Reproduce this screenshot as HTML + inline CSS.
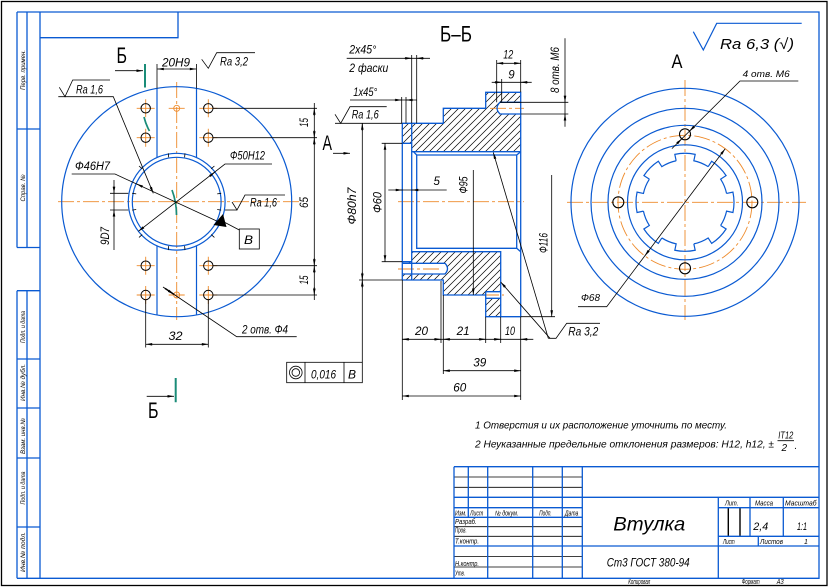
<!DOCTYPE html>
<html><head><meta charset="utf-8">
<style>
html,body{margin:0;padding:0;background:#fff}
svg{display:block}
text{font-family:"Liberation Sans","DejaVu Sans",sans-serif;font-style:italic;fill:#000}
.u{font-style:normal}
</style></head><body>
<svg width="830" height="588" viewBox="0 0 830 588" xmlns="http://www.w3.org/2000/svg">
<defs>
<marker id="a" viewBox="0 0 10 4" refX="10" refY="2" markerWidth="7" markerHeight="2.6" markerUnits="userSpaceOnUse" orient="auto-start-reverse"><path d="M0,0L10,2L0,4z" fill="#000"/></marker>
<pattern id="h" width="7" height="7" patternUnits="userSpaceOnUse"><path d="M-1,1L1,-1M0,7L7,0M6,8L8,6" stroke="#000" stroke-width="0.7"/></pattern>
</defs>

<!-- outer border -->
<rect x="1.5" y="1.5" width="825.5" height="584" fill="none" stroke="#000" stroke-width="1.3"/>

<!-- blue frame + left strip -->
<g stroke="#0a5ad2" stroke-width="1.3" fill="none">
<path d="M17,12H819V578.3H17M40,12V578.3M17,12V247.5M27,12V247.5M17,129H40M17,247.5H40"/>
<path d="M17,290.7V578.3M27,290.7V578.3M17,290.7H40M17,359H40M17,408H40M17,458H40M17,527H40"/>
<path d="M40,37.7H178V12"/>
</g>
<g font-size="6.5">
<text transform="translate(22.5,70) rotate(-90)" y="2.3" text-anchor="middle" textLength="40" lengthAdjust="spacingAndGlyphs">Перв. примен.</text>
<text transform="translate(22.5,188) rotate(-90)" y="2.3" text-anchor="middle" textLength="27" lengthAdjust="spacingAndGlyphs">Справ. №</text>
<text transform="translate(22.5,327) rotate(-90)" y="2.3" text-anchor="middle" textLength="32" lengthAdjust="spacingAndGlyphs">Подп. и дата</text>
<text transform="translate(22.5,382.5) rotate(-90)" y="2.3" text-anchor="middle" textLength="37" lengthAdjust="spacingAndGlyphs">Инв.№ дубл.</text>
<text transform="translate(22.5,436) rotate(-90)" y="2.3" text-anchor="middle" textLength="36" lengthAdjust="spacingAndGlyphs">Взам. инв.№</text>
<text transform="translate(22.5,488) rotate(-90)" y="2.3" text-anchor="middle" textLength="33" lengthAdjust="spacingAndGlyphs">Подп. и дата</text>
<text transform="translate(22.5,552) rotate(-90)" y="2.3" text-anchor="middle" textLength="40" lengthAdjust="spacingAndGlyphs">Инв.№ подл.</text>
</g>

<!-- ============ LEFT VIEW ============ -->
<g stroke="#ee8a2a" stroke-width="0.9" fill="none" stroke-dasharray="16,3,3,3">
<path d="M58,201.7H302M176.7,82V320"/>
</g>
<g stroke="#ee8a2a" stroke-width="0.9" fill="none">
<path d="M136.7,108.3h18M145.7,99.3v18M199.3,108.3h18M208.3,99.3v18M136.7,137.7h18M145.7,128.7v18M199.3,137.7h18M208.3,128.7v18"/>
<path d="M136.7,265.7h18M145.7,256.7v18M199.3,265.7h18M208.3,256.7v18M136.7,295h18M145.7,286v18M199.3,295h18M208.3,286v18"/>
<path d="M168.7,108.3h16M168.7,295h16"/>
<circle cx="176.7" cy="108.3" r="3"/><circle cx="176.7" cy="295" r="3"/>
</g>
<g stroke="#0a5ad2" stroke-width="1.2" fill="none">
<circle cx="176.7" cy="201.7" r="115"/>
<circle cx="176.7" cy="201.7" r="48.4"/>
<circle cx="176.7" cy="201.7" r="44.4"/>
<path d="M157,88.4V157.5M196.5,88.4V157.5M157,245.9V315M196.5,245.9V315"/>
</g>
<g stroke="#000" stroke-width="0.8" fill="none">
<path d="M168.3,153.3l0.4,4M185,153.3l-0.4,4M168.3,250.1l0.4,-4M185,250.1l-0.4,-4M132.2,193.3l4,0.6M132.2,210.1l4,-0.6M221.2,193.3l-4,0.6M221.2,210.1l-4,-0.6"/>
<path d="M139,166l3.2,2.8M214.4,166l-3.2,2.8M139,237.4l3.2,-2.8M214.4,237.4l-3.2,-2.8"/>
</g>
<g stroke="#000" stroke-width="1" fill="none">
<circle cx="145.7" cy="108.3" r="4.7"/><circle cx="208.3" cy="108.3" r="4.7"/>
<circle cx="145.7" cy="137.7" r="4.7"/><circle cx="208.3" cy="137.7" r="4.7"/>
<circle cx="145.7" cy="265.7" r="4.7"/><circle cx="208.3" cy="265.7" r="4.7"/>
<circle cx="145.7" cy="295" r="4.7"/><circle cx="208.3" cy="295" r="4.7"/>
</g>
<!-- section marks -->
<g stroke="#1a8c78" stroke-width="2" fill="none">
<path d="M145,64V87.5M175.7,378V402.3"/>
<path d="M144,117Q146,125 149.5,131M172,190Q176.5,202 176.5,215" stroke-width="1.7"/>
</g>
<g stroke="#000" stroke-width="0.8" fill="none">
<path d="M115,70.7H143" marker-end="url(#a)"/>
<path d="M146.7,396.3H174" marker-end="url(#a)"/>
<!-- 20H9 -->
<path d="M157,64V88.4M196.5,64V88.4"/>
<path d="M157.3,69H196.3" marker-start="url(#a)" marker-end="url(#a)"/>
<polyline points="201.7,59.3 208.3,68.3 216.7,52.7 255,52.7"/>
<!-- Ra 1,6 upper -->
<polyline points="58.3,96.7 113.3,96.7 153.3,193.3" marker-end="url(#a)"/>
<polyline points="59.3,87.3 65,96.7 72.7,80 110,80"/>
<!-- Ф46H7 -->
<polyline points="71.7,174 115,174 224,224.4"/>
<path d="M143,186.9L136.5,183.9" marker-end="url(#a)"/>
<path d="M225,222.5L239.3,230"/>
<!-- Ф50H12 -->
<polyline points="272,164 225,164 138.4,231.3" marker-end="url(#a)"/>
<path d="M209.5,176.3L215,172" marker-end="url(#a)"/>
<!-- Ra 1,6 right -->
<path d="M225,210H237"/>
<polyline points="232,202 237,210 245,195 285,195"/>
<!-- 907 -->
<path d="M114,180V250M110,193.3H128.3M110,210H128.3"/>
<path d="M114,186V193.3" marker-end="url(#a)"/>
<path d="M114,217V210" marker-end="url(#a)"/>
<!-- 65 / 15 -->
<path d="M314.3,103V300M213,108.3H317M213,137.7H317M213,265.7H317M213,295H317"/>
<path d="M314.3,116V108.3" marker-end="url(#a)"/>
<path d="M314.3,130V137.7" marker-end="url(#a)"/>
<path d="M314.3,145V137.7" marker-end="url(#a)"/>
<path d="M314.3,258V265.7" marker-end="url(#a)"/>
<path d="M314.3,273V265.7" marker-end="url(#a)"/>
<path d="M314.3,287V295" marker-end="url(#a)"/>
<!-- 32 -->
<path d="M145.7,300V347.5M208.3,300V347.5"/>
<path d="M145.7,344.3H208.3" marker-start="url(#a)" marker-end="url(#a)"/>
<!-- 2 отв Ф4 -->
<path d="M163,287L236.7,336.7H296.7"/>
<path d="M165,288.4L174,294.4" marker-end="url(#a)" stroke-width="1.5"/>
<!-- tolerance frame -->
<rect x="286.7" y="362.3" width="75.6" height="20.4"/>
<path d="M305,362.3V382.7M344,362.3V382.7"/>
<circle cx="295.8" cy="372.5" r="6.3"/><circle cx="295.8" cy="372.5" r="3.8"/>
<rect x="239.3" y="229" width="20" height="20"/>
</g>
<polygon points="213.5,225 223,214 226.5,227" fill="#000"/>

<g font-size="11.5">
<text class="u" x="116.5" y="63" font-size="22" textLength="10.5" lengthAdjust="spacingAndGlyphs">Б</text>
<text class="u" x="148" y="418" font-size="22" textLength="10.5" lengthAdjust="spacingAndGlyphs">Б</text>
<text x="162" y="66.5" textLength="28" lengthAdjust="spacingAndGlyphs">20H9</text>
<text x="220" y="65.5" textLength="28" lengthAdjust="spacingAndGlyphs">Ra 3,2</text>
<text x="76" y="93.5" textLength="27" lengthAdjust="spacingAndGlyphs">Ra 1,6</text>
<text x="75" y="170" textLength="35" lengthAdjust="spacingAndGlyphs">Ф46H7</text>
<text x="230" y="159.5" textLength="35" lengthAdjust="spacingAndGlyphs">Ф50H12</text>
<text x="250" y="206.5" textLength="27" lengthAdjust="spacingAndGlyphs">Ra 1,6</text>
<text x="244" y="244" textLength="9" lengthAdjust="spacingAndGlyphs">В</text>
<text transform="translate(304,202.5) rotate(-90)" y="4" text-anchor="middle" textLength="11" lengthAdjust="spacingAndGlyphs">65</text>
<text transform="translate(304,122.5) rotate(-90)" y="4" text-anchor="middle" textLength="9" lengthAdjust="spacingAndGlyphs">15</text>
<text transform="translate(304,280) rotate(-90)" y="4" text-anchor="middle" textLength="9" lengthAdjust="spacingAndGlyphs">15</text>
<text transform="translate(105,236) rotate(-90)" y="4" text-anchor="middle" textLength="18" lengthAdjust="spacingAndGlyphs">9D7</text>
<text x="168.5" y="340" textLength="14" lengthAdjust="spacingAndGlyphs">32</text>
<text x="242" y="333.5" textLength="46" lengthAdjust="spacingAndGlyphs">2 отв. Ф4</text>
<text x="311" y="378.5" textLength="25" lengthAdjust="spacingAndGlyphs">0,016</text>
<text x="348" y="378.5" textLength="8" lengthAdjust="spacingAndGlyphs">В</text>
</g>

<!-- ============ SECTION Б-Б ============ -->
<path fill="url(#h)" fill-rule="evenodd" d="M402.3,123.3H443.3V108.3H485.7V92.3H520.7V151.7H411.7V143.3H402.3ZM520.7,102.3H500Q494,108.2 500,114H520.7Z"/>
<path fill="url(#h)" fill-rule="evenodd" d="M411.7,251.7H500.7V291.7H485.7V295H443.3V280H402.3V261.7H411.7ZM402.3,263.3H445Q450,268.6 445,274H402.3Z"/>
<path fill="url(#h)" d="M485.7,298.3H500.7V316.7H485.7Z"/>
<g stroke="#ee8a2a" stroke-width="0.9" fill="none" stroke-dasharray="16,3,3,3">
<path d="M398,201.7H524M490,108.3H524M398,269H442M483,295H504"/>
</g>
<g stroke="#0a5ad2" stroke-width="1.3" fill="none">
<path d="M402.3,280V123.3H443.3V108.3H485.7V92.3H520.7V316.7H485.7V295H443.3V280H402.3"/>
<path d="M411.7,123.3V280M402.3,143.3H411.7M402.3,261.7H411.7"/>
<path d="M411.7,151.7H520.7M411.7,251.7H500.7V316.7"/>
<path d="M416.7,155H516.7V248.3H416.7ZM413.5,151.7L416.7,155M516.7,155L520.7,151.7M516.7,248.3L520.7,251.7"/>
<path d="M520.7,102.3H500Q494,108.2 500,114H520.7"/>
<path d="M402.3,263.3H445Q450,268.6 445,274H402.3"/>
<path d="M485.7,291.7H500.7M485.7,298.3H500.7M485.7,291.7V295"/>
</g>
<g stroke="#000" stroke-width="0.8" fill="none">
<!-- Ф80h7 -->
<path d="M362.3,123.3V362.3M359,280H402.3"/>
<path d="M362.3,131V123.3" marker-end="url(#a)"/>
<path d="M362.3,272.3V280" marker-end="url(#a)"/>
<path d="M362.3,287.7V280" marker-end="url(#a)"/>
<!-- Ф60 -->
<path d="M381.7,143.3H402.3M381.7,261.7H402.3"/>
<path d="M385,143.3V261.7" marker-start="url(#a)" marker-end="url(#a)"/>
<!-- 5 -->
<path d="M388.3,190H446.7"/>
<path d="M395,190H402.3" marker-end="url(#a)"/>
<path d="M419,190H411.7" marker-end="url(#a)"/>
<!-- 2x45 -->
<path d="M346.7,58.3H430M411.7,55V123.3M416.7,55V123.3"/>
<path d="M404.5,58.3H411.7" marker-end="url(#a)"/>
<path d="M424,58.3H416.7" marker-end="url(#a)"/>
<!-- 1x45 -->
<path d="M350,100H416.7M401.7,97V123.3M406,97V123.3"/>
<path d="M394.5,100H401.7" marker-end="url(#a)"/>
<path d="M413,100H406" marker-end="url(#a)"/>
<!-- Ra 1,6 -->
<path d="M335,123.3H402.3"/>
<polyline points="335,114.3 340.7,123.3 350,106.7 386.7,106.7"/>
<!-- A arrow -->
<path d="M333,153.3H350" marker-end="url(#a)"/>
<!-- 12 / 9 -->
<path d="M496.7,60V102.3M520.7,60V92.3M501.7,79V102.3"/>
<path d="M496.7,63.3H520.7" marker-start="url(#a)" marker-end="url(#a)"/>
<path d="M491.7,82.3H531.7"/>
<path d="M494.5,82.3H501.7" marker-end="url(#a)"/>
<path d="M528,82.3H520.7" marker-end="url(#a)"/>
<!-- 8 отв M6 -->
<path d="M565,38.3V126.7M500,102.3H568.3M520.7,114H568.3"/>
<path d="M565,95V102.3" marker-end="url(#a)"/>
<path d="M565,121.3V114" marker-end="url(#a)"/>
<!-- Ф95, Ф116 -->
<path d="M473.3,170V295" marker-end="url(#a)"/>
<path d="M551.7,175V316.7" marker-end="url(#a)"/>
<path d="M520.7,316.7H555"/>
<!-- Ra 3,2 -->
<path d="M548.3,338.3L493.3,152.5" marker-end="url(#a)"/>
<path d="M550,338.3L500.7,282" marker-end="url(#a)"/>
<polyline points="548.3,338.3 556,338.3 566.7,323.3 600,323.3"/>
<!-- chain dims -->
<path d="M402.3,339.3H533.3"/>
<path d="M409.3,339.3H402.3" marker-end="url(#a)"/>
<path d="M434,339.3H441" marker-end="url(#a)"/>
<path d="M450.3,339.3H443.3" marker-end="url(#a)"/>
<path d="M478.7,339.3H485.7" marker-end="url(#a)"/>
<path d="M493.7,339.3H500.7" marker-end="url(#a)"/>
<path d="M527.7,339.3H520.7" marker-end="url(#a)"/>
<path d="M402.3,280V400M441,281V343M443.3,295V374M485.7,316.7V343M500.7,316.7V343M520.7,316.7V400"/>
<path d="M443.3,370.7H520.7" marker-start="url(#a)" marker-end="url(#a)"/>
<path d="M402.3,396H520.7" marker-start="url(#a)" marker-end="url(#a)"/>
</g>
<g font-size="11.5">
<text class="u" x="440" y="41.7" font-size="22" textLength="32" lengthAdjust="spacingAndGlyphs">Б–Б</text>
<text class="u" x="322.5" y="150" font-size="21" textLength="9.5" lengthAdjust="spacingAndGlyphs">А</text>
<text x="349.3" y="53.5" textLength="27" lengthAdjust="spacingAndGlyphs">2x45°</text>
<text x="349.3" y="72" textLength="39" lengthAdjust="spacingAndGlyphs">2 фаски</text>
<text x="353.3" y="96" textLength="24" lengthAdjust="spacingAndGlyphs">1x45°</text>
<text x="351.7" y="118.5" textLength="27" lengthAdjust="spacingAndGlyphs">Ra 1,6</text>
<text x="433.5" y="185">5</text>
<text transform="translate(352,206) rotate(-90)" y="4" text-anchor="middle" textLength="37" lengthAdjust="spacingAndGlyphs">Ф80h7</text>
<text transform="translate(377.5,202.5) rotate(-90)" y="4" text-anchor="middle" textLength="21" lengthAdjust="spacingAndGlyphs">Ф60</text>
<text transform="translate(463.7,185) rotate(-90)" y="4" text-anchor="middle" textLength="17" lengthAdjust="spacingAndGlyphs">Ф95</text>
<text transform="translate(543.5,243) rotate(-90)" y="4" text-anchor="middle" textLength="20" lengthAdjust="spacingAndGlyphs">Ф116</text>
<text transform="translate(555,70) rotate(-90)" y="4" text-anchor="middle" textLength="46" lengthAdjust="spacingAndGlyphs">8 отв. M6</text>
<text x="503.3" y="58.5" textLength="10" lengthAdjust="spacingAndGlyphs">12</text>
<text x="508.3" y="78.5">9</text>
<text x="415" y="335" textLength="13" lengthAdjust="spacingAndGlyphs">20</text>
<text x="456.7" y="335" textLength="13" lengthAdjust="spacingAndGlyphs">21</text>
<text x="505" y="335" textLength="10" lengthAdjust="spacingAndGlyphs">10</text>
<text x="473.3" y="366.5" textLength="13" lengthAdjust="spacingAndGlyphs">39</text>
<text x="453.3" y="391.5" textLength="13" lengthAdjust="spacingAndGlyphs">60</text>
<text x="568.3" y="335.5" textLength="30" lengthAdjust="spacingAndGlyphs">Ra 3,2</text>
</g>

<!-- ============ VIEW A ============ -->
<g stroke="#ee8a2a" stroke-width="0.9" fill="none" stroke-dasharray="16,3,3,3">
<path d="M567,202.3H806M685,80V320"/>
<circle cx="685" cy="202.3" r="67"/>
</g>
<g stroke="#0a5ad2" stroke-width="1.2" fill="none">
<circle cx="685" cy="202.3" r="114"/>
<circle cx="685" cy="202.3" r="94"/>
<circle cx="685" cy="202.3" r="77"/>
<circle cx="685" cy="202.3" r="57.5"/>
<g transform="translate(685,202.3)">
<path id="sp" d="M-8.84,-41.57L-10.19,-47.93A49,49 0 0 1 10.19,-47.93L8.84,-41.57A42.5,42.5 0 0 1 23.15,-35.64"/>
<use href="#sp" transform="rotate(45)"/><use href="#sp" transform="rotate(90)"/><use href="#sp" transform="rotate(135)"/>
<use href="#sp" transform="rotate(180)"/><use href="#sp" transform="rotate(225)"/><use href="#sp" transform="rotate(270)"/>
<use href="#sp" transform="rotate(315)"/>
</g>
<polyline points="693.3,31.7 703.3,50 716.7,23.3 801.7,23.3"/>
</g>
<g stroke="#000" stroke-width="1.1" fill="none">
<circle cx="685" cy="134.3" r="5.5"/><circle cx="618.3" cy="202.3" r="5.5"/>
<circle cx="752.3" cy="202.3" r="5.5"/><circle cx="685" cy="268.3" r="5.5"/>
</g>
<g stroke="#000" stroke-width="0.8" fill="none">
<path d="M798.3,81H740L671.9,148.6"/>
<path d="M694.6,126.1L689.5,131.2" marker-end="url(#a)"/>
<path d="M676.8,143.7L681.8,138.8" marker-end="url(#a)"/>
<path d="M578,306.7H606.7L725.2,148.7" marker-end="url(#a)"/>
<path d="M649,250.3L644.8,255.9" marker-end="url(#a)"/>
</g>
<g font-size="11.5">
<text class="u" x="671.5" y="68" font-size="19" textLength="11" lengthAdjust="spacingAndGlyphs">А</text>
<text x="720" y="49" font-size="15" textLength="74" lengthAdjust="spacingAndGlyphs">Ra 6,3 (√)</text>
<text x="742.7" y="77" font-size="9.5" textLength="47" lengthAdjust="spacingAndGlyphs">4 отв. M6</text>
<text x="581" y="301" font-size="10" textLength="19" lengthAdjust="spacingAndGlyphs">Ф68</text>
</g>

<!-- ============ NOTES ============ -->
<g font-size="10.5">
<text x="475" y="428.5" textLength="252" lengthAdjust="spacingAndGlyphs">1 Отверстия и их расположение уточнить по месту.</text>
<text x="475" y="447.5" textLength="299" lengthAdjust="spacingAndGlyphs">2 Неуказанные предельные отклонения размеров: H12, h12, ±</text>
<text x="778.3" y="438.5" font-size="10" textLength="15" lengthAdjust="spacingAndGlyphs">IT12</text>
<text x="781.5" y="451" font-size="10">2</text>
<text x="794.5" y="449" font-size="10">.</text>
</g>
<path d="M777.5,440.7H794" stroke="#000" stroke-width="0.8"/>

<!-- ============ TITLE BLOCK ============ -->
<g stroke="#000" stroke-width="0.8" fill="none">
<path d="M454,477H582.3M454,487.3H582.3M454,526.7H582.3M454,536.3H582.3M454,556.5H582.3M454,567H582.3"/>
<path d="M728.3,507.7V536.3M740,507.7V536.3" stroke-width="1.4"/>
</g>
<g stroke="#0a5ad2" stroke-width="1.3" fill="none">
<path d="M454,466.7H819M454,466.7V578.3M468.3,466.7V517.3M487.7,466.7V578.3M532.7,466.7V578.3M562.3,466.7V578.3M582.3,466.7V578.3"/>
<path d="M454,497.3H819M454,507.7H582.3M718.3,507.7H819M454,517.3H582.3M718.3,536.3H819M454,546H819"/>
<path d="M718.3,497.3V578.3M750,497.3V536.3M783.3,497.3V536.3M758.3,536.3V546"/>
</g>
<g font-size="7">
<text x="455" y="515.5" textLength="11.7" lengthAdjust="spacingAndGlyphs">Изм.</text>
<text x="470" y="515.5" textLength="13.3" lengthAdjust="spacingAndGlyphs">Лист</text>
<text x="495" y="515.5" textLength="23.3" lengthAdjust="spacingAndGlyphs">№ докум.</text>
<text x="539.3" y="515.5" textLength="12.4" lengthAdjust="spacingAndGlyphs">Подп.</text>
<text x="565" y="515.5" textLength="13.3" lengthAdjust="spacingAndGlyphs">Дата</text>
<text x="455" y="524" textLength="21.7" lengthAdjust="spacingAndGlyphs">Разраб.</text>
<text x="455" y="532.5" textLength="11.7" lengthAdjust="spacingAndGlyphs">Пров.</text>
<text x="455" y="543.7" textLength="24" lengthAdjust="spacingAndGlyphs">Т.контр.</text>
<text x="455" y="566" textLength="24" lengthAdjust="spacingAndGlyphs">Н.контр.</text>
<text x="455" y="575.5" textLength="10" lengthAdjust="spacingAndGlyphs">Утв.</text>
<text x="725" y="505.3" textLength="13.3" lengthAdjust="spacingAndGlyphs">Лит.</text>
<text x="755" y="505.3" textLength="18" lengthAdjust="spacingAndGlyphs">Масса</text>
<text x="785" y="505.3" textLength="31.5" lengthAdjust="spacingAndGlyphs">Масштаб</text>
<text x="723" y="544" textLength="11.7" lengthAdjust="spacingAndGlyphs">Лист</text>
<text x="760" y="544" textLength="23" lengthAdjust="spacingAndGlyphs">Листов</text>
<text x="804" y="544">1</text>
<text x="628.3" y="584" textLength="22" lengthAdjust="spacingAndGlyphs">Копировал</text>
<text x="741.7" y="584" textLength="18" lengthAdjust="spacingAndGlyphs">Формат</text>
<text x="776.7" y="584" textLength="7" lengthAdjust="spacingAndGlyphs">А3</text>
</g>
<text x="753.3" y="530" font-size="11" textLength="15" lengthAdjust="spacingAndGlyphs">2,4</text>
<text x="797" y="530" font-size="11" textLength="10" lengthAdjust="spacingAndGlyphs">1:1</text>
<text x="613.3" y="530.5" font-size="19" textLength="72" lengthAdjust="spacingAndGlyphs">Втулка</text>
<text x="606.7" y="566.5" font-size="12" textLength="83" lengthAdjust="spacingAndGlyphs">Ст3 ГОСТ 380-94</text>
</svg>
</body></html>
